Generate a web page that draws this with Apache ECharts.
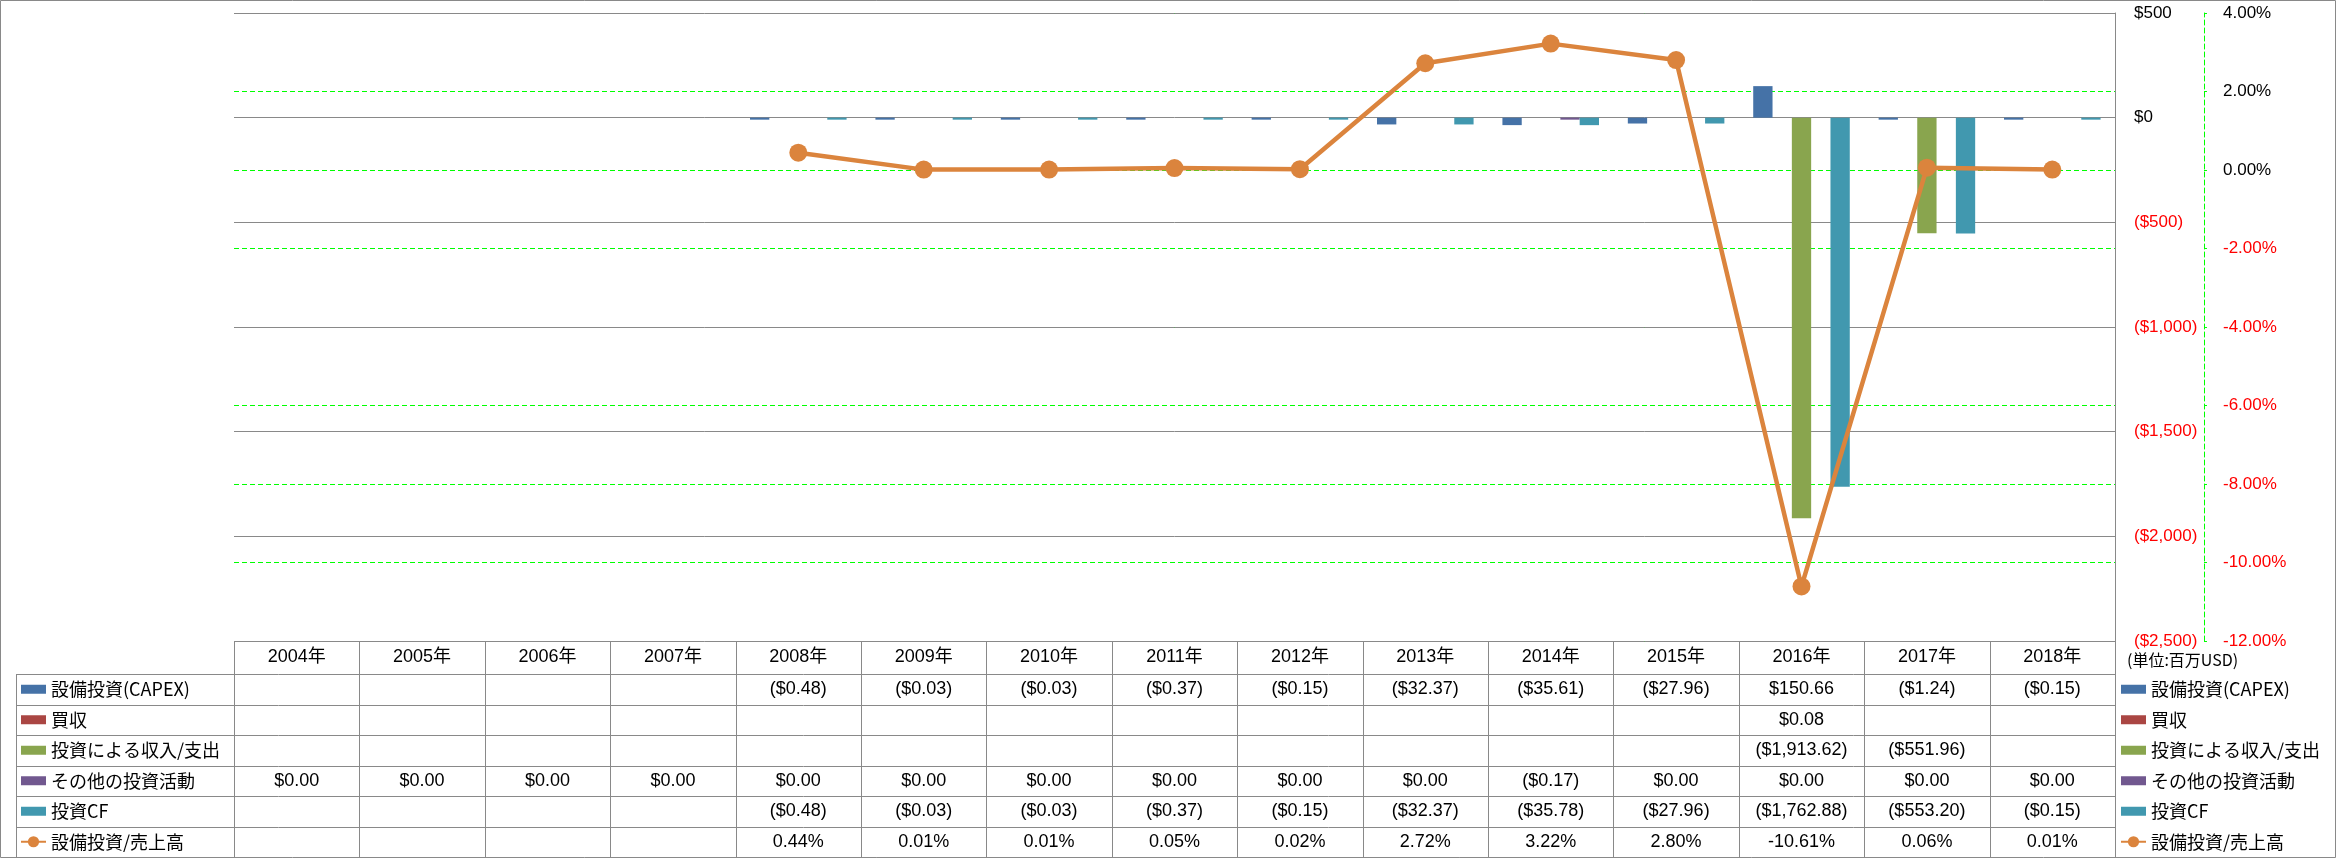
<!DOCTYPE html>
<html>
<head>
<meta charset="utf-8">
<script src="https://cdn.jsdelivr.net/npm/echarts@6.0.0/dist/echarts.min.js"></script>
<style>
html,body{margin:0;padding:0;background:#fff;}
#chart{width:2336px;height:858px;}
</style>
</head>
<body>
<div id="chart"></div>
<script>
// ---- data ----
const years = ['2004年','2005年','2006年','2007年','2008年','2009年','2010年','2011年','2012年','2013年','2014年','2015年','2016年','2017年','2018年'];
const seriesNames = ['設備投資(CAPEX)','買収','投資による収入/支出','その他の投資活動','投資CF','設備投資/売上高'];
const capex        = [null,null,null,null,-0.48,-0.03,-0.03,-0.37,-0.15,-32.37,-35.61,-27.96,150.66,-1.24,-0.15];
const acquisitions = [null,null,null,null,null,null,null,null,null,null,null,null,0.08,null,null];
const investIncome = [null,null,null,null,null,null,null,null,null,null,null,null,-1913.62,-551.96,null];
const otherInvest  = [0,0,0,0,0,0,0,0,0,0,-0.17,0,0,0,0];
const investCF     = [null,null,null,null,-0.48,-0.03,-0.03,-0.37,-0.15,-32.37,-35.78,-27.96,-1762.88,-553.20,-0.15];
const capexRatio   = [null,null,null,null,0.44,0.01,0.01,0.05,0.02,2.72,3.22,2.80,-10.61,0.06,0.01];
const usdAxis = {min:-2500, max:500, interval:500};
const pctAxis = {min:-12, max:4, interval:2};
const unitLabel = '(単位:百万USD)';

// ---- styling / layout ----
const colors = ['#4572A7','#AA4643','#89A54E','#71588F','#4198AF','#DB843D'];
const gridLine = '#898989';
const green = '#00FF00';
const latin = '"Liberation Sans", "Noto Sans CJK JP", sans-serif';
const cjk = '"Noto Sans CJK JP", "Liberation Sans", sans-serif';
const W = 2336, H = 858;
const gridL = 234, gridR = 2115, gridT = 13, gridB = 641;
const headerH = 33, rowH = 30.5;
const rowTop = gridB + headerH;

function fmtUsd(v){
  if (v === null || v === undefined) return '';
  const s = '$' + Math.abs(v).toLocaleString('en-US',{minimumFractionDigits:2, maximumFractionDigits:2});
  return v < 0 ? '(' + s + ')' : s;
}
function fmtPct(v){
  if (v === null || v === undefined) return '';
  return v.toFixed(2) + '%';
}
function fmtAxisUsd(v){
  const s = '$' + Math.abs(v).toLocaleString('en-US');
  return v < 0 ? '(' + s + ')' : s;
}
const negRed = v => (parseFloat(v) < 0 ? '#FF0000' : '#000000');

const tableRows = [
  capex.map(fmtUsd), acquisitions.map(fmtUsd), investIncome.map(fmtUsd),
  otherInvest.map(fmtUsd), investCF.map(fmtUsd), capexRatio.map(fmtPct)
];

const xAxes = [{
  type:'category', data:years, gridIndex:0, position:'bottom',
  axisLine:{show:false}, axisTick:{show:false}, splitLine:{show:false},
  axisLabel:{interval:0, margin:headerH/2, verticalAlign:'middle', color:'#000', fontSize:18, fontFamily:latin}
}];
tableRows.forEach((row, r) => {
  xAxes.push({
    type:'category', data:years, gridIndex:0, position:'bottom',
    axisLine:{show:false}, axisTick:{show:false}, splitLine:{show:false},
    axisLabel:{interval:0, margin:headerH + rowH*r + rowH/2, verticalAlign:'middle',
      color:'#000', fontSize:18, fontFamily:latin,
      formatter:(val, idx) => row[idx]}
  });
});

const barData = [capex, acquisitions, investIncome, otherInvest, investCF];
const series = barData.map((arr, i) => ({
  name: seriesNames[i], type:'bar', xAxisIndex:0, yAxisIndex:0,
  data: arr.map(v => (v === 0 ? null : v)),
  barGap:'0%', barCategoryGap:'23%', barMinHeight: i === 1 ? 0 : 2,
  itemStyle:{color:colors[i]}, z:3
}));
series.push({
  name: seriesNames[5], type:'line', xAxisIndex:0, yAxisIndex:1, data:capexRatio,
  symbol:'circle', symbolSize:18, z:5,
  lineStyle:{color:colors[5], width:4.5}, itemStyle:{color:colors[5]}
});

const barIcon = 'path://M0,0h25v9h-25z';
function legendData(){
  return seriesNames.map((n, i) => i < 5 ? {name:n, icon:barIcon} : {name:n});
}
function legendCfg(left){
  return {
    data: legendData(), orient:'vertical', left:left, top: rowTop + rowH/2 - 10,
    padding:0, itemWidth:25, itemHeight:14, itemGap: rowH - 20, selectedMode:false,
    textStyle:{color:'#000', fontSize:18, fontFamily:cjk, lineHeight:20}
  };
}

// table borders (layout only)
const gfx = [{
  type:'rect', silent:true, shape:{x:0.5, y:0.5, width:W-1, height:H-1},
  style:{fill:'none', stroke:gridLine, lineWidth:1}, z:-1
}, {
  type:'line', silent:true, shape:{x1:16.5, y1:rowTop, x2:16.5, y2:H},
  style:{stroke:gridLine, lineWidth:1}
}];
for (let r = 0; r < 6; r++) {
  const y = Math.round(rowTop + rowH*r) + 0.5;
  gfx.push({type:'line', silent:true, shape:{x1:16, y1:y, x2:gridR + 1, y2:y}, style:{stroke:gridLine, lineWidth:1}});
}
const colW = (gridR - gridL) / years.length;
for (let c = 0; c <= years.length; c++) {
  const x = Math.round(gridL + colW*c) + 0.5;
  gfx.push({type:'line', silent:true, shape:{x1:x, y1:gridB, x2:x, y2:H}, style:{stroke:gridLine, lineWidth:1}});
}

const chart = echarts.init(document.getElementById('chart'), null, {renderer:'canvas'});
chart.setOption({
  animation:false,
  backgroundColor:'#fff',
  title:{text:unitLabel, left:2127, top:652, padding:0,
    textStyle:{color:'#000', fontSize:16, fontWeight:'normal', fontFamily:cjk}},
  legend:[legendCfg(20), legendCfg(2120)],
  grid:{left:gridL, right:W - gridR, top:gridT, bottom:H - gridB, outerBoundsMode:'none'},
  xAxis: xAxes,
  yAxis:[{
    type:'value', position:'right', min:usdAxis.min, max:usdAxis.max, interval:usdAxis.interval, z:1,
    axisLine:{show:true, lineStyle:{color:gridLine, width:1}},
    axisTick:{show:false},
    splitLine:{show:true, lineStyle:{color:gridLine, width:1, type:'solid'}},
    axisLabel:{margin:19, fontSize:17, fontFamily:latin, formatter:fmtAxisUsd, color:negRed}
  },{
    type:'value', position:'right', offset:89, min:pctAxis.min, max:pctAxis.max, interval:pctAxis.interval, z:0,
    axisLine:{show:true, lineStyle:{color:green, width:1, type:[5,3]}},
    axisTick:{show:true, length:3, lineStyle:{color:green}},
    splitLine:{show:true, lineStyle:{color:green, width:1, type:[5,3]}},
    axisLabel:{margin:19, fontSize:17, fontFamily:latin, formatter:v => v.toFixed(2) + '%', color:negRed}
  }],
  graphic: gfx,
  series: series
});
</script>
</body>
</html>
